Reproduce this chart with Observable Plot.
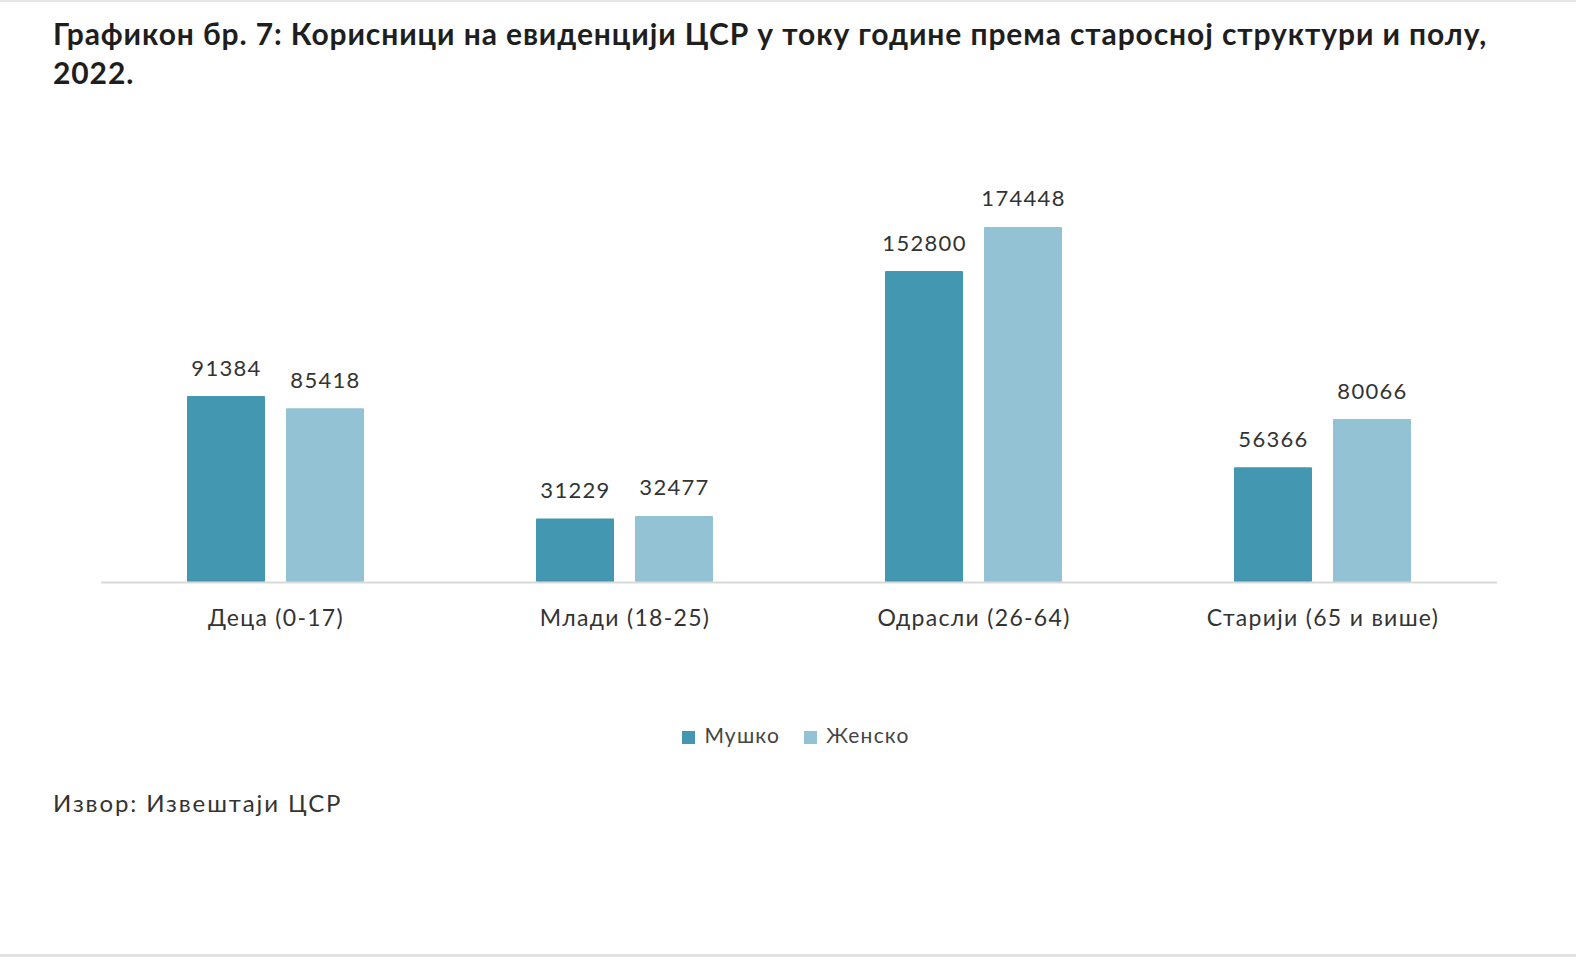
<!DOCTYPE html>
<html>
<head>
<meta charset="utf-8">
<script src="https://cdn.jsdelivr.net/npm/d3@7"></script>
<script src="https://cdn.jsdelivr.net/npm/@observablehq/plot@0.6"></script>
<style>
  html, body { margin: 0; padding: 0; background: #fff; }
  body { width: 1576px; height: 960px; position: relative; overflow: hidden; font-family: Lato, "Noto Sans", sans-serif; }
  #topline { position: absolute; left: 0; top: 0; width: 1576px; height: 2px; background: #e6e6e6; }
  #botline { position: absolute; left: 0; top: 954px; width: 1576px; height: 3px; background: #e2e2e2; }
  #title { position: absolute; left: 53px; top: 14px; font-size: 30px; letter-spacing: 0.9px; font-weight: 700; color: #1e1e1e; line-height: 39px; white-space: nowrap; }
  #chart { position: absolute; left: 0; top: 135px; }
  #legend { position: absolute; left: 8px; top: 722px; width: 1576px; text-align: center; font-size: 21px; letter-spacing: 1.2px; color: #444; }
  #legend span.item { display: inline-block; margin: 0 12px; }
  #legend span.sw { display: inline-block; width: 13px; height: 13px; margin-right: 9px; vertical-align: -1px; }
  #source { position: absolute; left: 53px; top: 788px; font-size: 24px; letter-spacing: 1.9px; color: #333; }
</style>
</head>
<body>
<div id="topline"></div>
<div id="title">Графикон бр. 7: Корисници на евиденцији ЦСР у току године према старосној структури и полу,<br>2022.</div>
<div id="chart"></div>
<div id="legend"></div>
<div id="source">Извор: Извештаји ЦСР</div>
<div id="botline"></div>
<script>
const categories = ["Деца (0-17)", "Млади (18-25)", "Одрасли (26-64)", "Старији (65 и више)"];
const series = ["Мушко", "Женско"];
const male = [91384, 31229, 152800, 56366];
const female = [85418, 32477, 174448, 80066];
const colors = ["#4397b0", "#93c2d5"];

const data = [];
categories.forEach((c, i) => {
  data.push({category: c, sex: series[0], value: male[i]});
  data.push({category: c, sex: series[1], value: female[i]});
});

const chart = Plot.plot({
  width: 1576,
  height: 497,
  marginLeft: 101,
  marginRight: 79,
  marginTop: 40,
  marginBottom: 50,
  style: {fontFamily: "Lato, 'Noto Sans', sans-serif", fontSize: "23px", letterSpacing: "1.3px", color: "#333", background: "transparent"},
  fx: {domain: categories, padding: 0, label: null, axis: "bottom", tickSize: 0, tickPadding: 27},
  x: {domain: series, paddingInner: 0.212, paddingOuter: 0.861, axis: null},
  y: {domain: [0, 200000], axis: null},
  color: {domain: series, range: colors},
  marks: [
    Plot.barY(data, {fx: "category", x: "sex", y: "value", fill: "sex", rx: 1}),
    Plot.ruleY([0], {stroke: "#d9d9d9", strokeWidth: 2}),
    Plot.text(data, {fx: "category", x: "sex", y: "value", text: d => String(d.value), lineAnchor: "bottom", dy: -21, fontSize: 22, fill: "#333"})
  ]
});
document.getElementById("chart").appendChild(chart);

const legend = document.getElementById("legend");
series.forEach((s, i) => {
  const item = document.createElement("span");
  item.className = "item";
  const sw = document.createElement("span");
  sw.className = "sw";
  sw.style.background = colors[i];
  item.appendChild(sw);
  item.appendChild(document.createTextNode(s));
  legend.appendChild(item);
});
</script>
</body>
</html>
